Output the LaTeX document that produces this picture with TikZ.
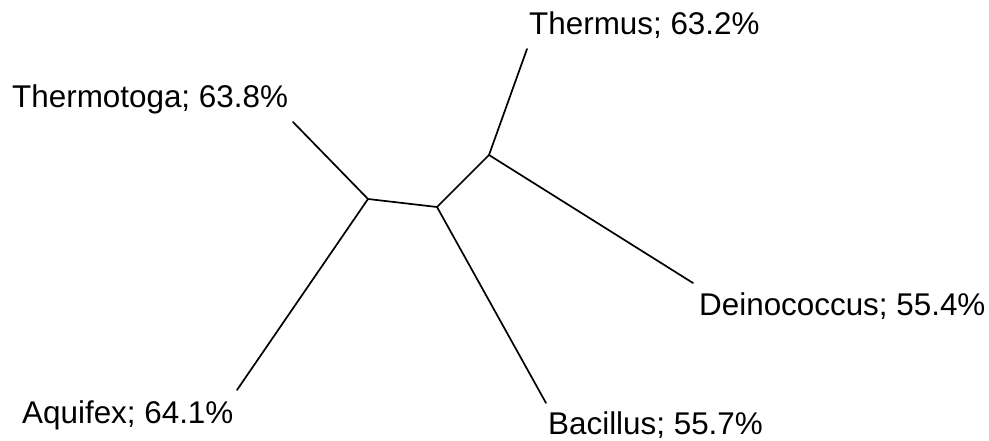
\documentclass[tikz,border=0pt]{standalone}
\usepackage{fontspec}
\setmainfont{Liberation Sans}
\tikzset{treep/.style={
  x=1pt,
  y=-1pt
}}
\tikzset{branch/.style={
  draw,
  line width=1.7pt,
  line cap=round
}}
\tikzset{taxon/.style={
  anchor=base west,
  inner sep=0pt,
  font=\fontsize{31.4}{36}\selectfont
}}

\begin{document}
\begin{tikzpicture}[treep]
    \useasboundingbox (0,0) rectangle (989,441);

    %% Inner splits
    \coordinate (tq) at (368,199);
    \coordinate (bd) at (437,207);
    \coordinate (td) at (489,155);

    %% Leaf tips
    \coordinate (tga) at (293,122);
    \coordinate (aqx) at (237,390);
    \coordinate (bac) at (546,403);
    \coordinate (ths) at (527,49);
    \coordinate (dei) at (693,283);

    % Labels
    \node[taxon] (ltga) at (12,108) {Thermotoga; 63.8\%};
    \node[taxon] (laqx) at (22,423) {Aquifex; 64.1\%};
    \node[taxon] (lbac) at (548,434) {Bacillus; 55.7\%};
    \node[taxon] (lths) at (529,35) {Thermus; 63.2\%};
    \node[taxon] (ldei) at (699,315) {Deinococcus; 55.4\%};

    % Branches
    \path[branch] (tga) -- (tq) -- (aqx);
    \path[branch] (tq) -- (bd) -- (bac);
    \path[branch] (bd) -- (td) -- (ths);
    \path[branch] (td) -- (dei);

\end{tikzpicture}
\end{document}
